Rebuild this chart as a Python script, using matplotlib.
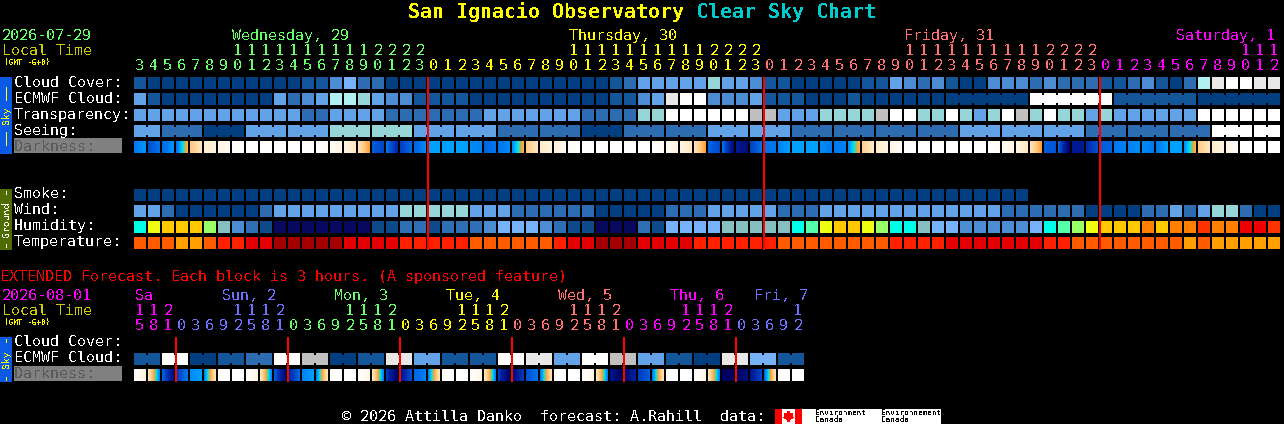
import numpy as np
import matplotlib
matplotlib.use("Agg")
import matplotlib.pyplot as plt
from matplotlib.colors import LinearSegmentedColormap
from matplotlib.patches import Polygon

plt.rcParams['font.family'] = ['DejaVu Sans Mono']
plt.rcParams['text.antialiased'] = False
plt.rcParams['text.hinting'] = 'native'

# hours shown on top of each column, split by day
hours_wed = list(range(3, 24))
hours_thu = list(range(0, 24))
hours_fri = list(range(0, 24))
hours_sat = list(range(0, 13))
ext_hours_sat = [15, 18, 21]
ext_hours_sun = [0, 3, 6, 9, 12, 15, 18, 21]
ext_hours_mon = [0, 3, 6, 9, 12, 15, 18, 21]
ext_hours_tue = [0, 3, 6, 9, 12, 15, 18, 21]
ext_hours_wed = [0, 3, 6, 9, 12, 15, 18, 21]
ext_hours_thu = [0, 3, 6, 9, 12, 15, 18, 21]
ext_hours_fri = [0, 3, 6, 9, 12]

# rows, one letter per hour (see the palettes below)
cloud_cover = ("baaaaaaaaaaabbdfccaaa"
               "aaaaaaaaaaaaabceeeeegeedbbaaaaa"
               "bbedcdbaadddcdcccbbcdbachjkkjj")
ecmwf_cloud = ("ebaaaaaaaaecdehhgeddb"
               "bbbaaaaaaaaaabbdejkkdddebbbaaab"
               "aaaaaaaaaaaakkkkkkbbbbbbaaaaaa")
transparency = ("eeeeeeeeeeeecceeeeccc"
                "cccceeeeeeeccccggkkkkkkiieeeggg"
                "gikkggkgegkigkggegeeeeeekkkkkk")
smoke = "aaaaaaaaaaaaaaaaaaaaaaaaaaaaaaaaaaaaaaaaaaaaaaaaaaaaaaaaaaaaaaaa"
wind = ("eecaaaaaaceeeeeeeeegg"
        "gggeeeccccccaaaaaccceeeeeccceee"
        "eeeeeeeeeeccccccaaaacceceggcaa")
humidity = ("ywxxxvtdcbnnnnnnnbbcc"
            "bcccdfffdcbbnnncbfffftttttyuwxx"
            "wvyytffdddddfyuvwxxxzxzzrzzRRr")
temperature = ("oooAAossrrRRRRRrrrrss"
               "sssoooooosrrRRRrrrrssssssoooooo"
               "oossssrrrrrrrssooooooooAoAAAAA")

# seeing comes in 3 hour blocks, the first and last are cut off
seeing_blocks = ["e", "c", "a", "e", "e", "g", "g", "e", "e", "c", "c", "a", "c", "c",
                 "e", "e", "c", "c", "c", "c", "e", "e", "e", "c", "c", "c", "k", "k"]
seeing_lengths = [2] + [3] * 26 + [2]

ext_ecmwf_blocks = ["b", "k", "a", "b", "c", "k", "i", "a", "b", "j", "e", "b",
                    "b", "k", "j", "e", "k", "i", "e", "b", "a", "j", "f", "b"]

# darkness at the left and right edge of each block
dark_left = [4.0, 4.6, 4.2, 4.1, 2.0, 1.0, 0.6, 0.1, 0, 0, 0, 0, 0, 0, 0.2, 0.7, 1.3,
             4.4, 4.0, 4.9, 4.3, 3.6, 3.6, 3.6, 3.8, 4.3, 4.1, 3.8, 1.9, 1.1, 0.7, 0.1,
             0, 0, 0, 0, 0, 0, 0.2, 0.7, 1.3, 4.3, 4.1, 5.8, 4.9, 4.1, 3.9, 3.6, 3.6,
             3.8, 4.0, 3.8, 1.8, 1.1, 0.6, 0, 0, 0, 0, 0, 0, 0, 0.2, 0.7, 1.3,
             4.4, 4.3, 5.9, 5.4, 4.4, 4.0, 3.9, 3.8, 4.0, 3.6, 3.8, 1.9, 1.1, 0.6, 0, 0, 0]
dark_right = [3.7, 4.1, 3.7, 2.4, 1.2, 0.7, 0.3, 0, 0, 0, 0, 0, 0, 0.2, 0.6, 1.2, 2.6,
              4.8, 5.5, 4.2, 3.8, 3.6, 3.6, 3.6, 3.9, 4.0, 3.8, 2.4, 1.2, 0.7, 0.3, 0,
              0, 0, 0, 0, 0, 0.2, 0.6, 1.2, 2.6, 4.7, 6.4, 6.5, 4.1, 4.0, 3.6, 3.6, 3.6,
              4.0, 3.9, 2.4, 1.1, 0.7, 0.2, 0, 0, 0, 0, 0, 0, 0.2, 0.6, 1.2, 2.6,
              4.5, 6.9, 5.9, 4.6, 4.3, 3.9, 3.8, 4.0, 3.6, 3.6, 2.4, 1.2, 0.7, 0.2, 0, 0, 0]
ext_dark_left = [0, 1.2, 4.3, 5.0, 3.8, 3.9, 0, 0,
                 0, 1.2, 4.4, 5.5, 3.9, 3.9, 0, 0,
                 0, 1.2, 5.0, 6.0, 4.3, 3.9, 0, 0,
                 0, 1.2, 5.0, 6.5, 4.6, 4.0, 0, 0,
                 0, 1.2, 6.0, 6.8, 5.0, 4.0, 0, 0,
                 0, 1.2, 7.0, 7.0, 6.0, 4.2, 0, 0]
ext_dark_right = [0.8, 3.9, 6.3, 4.0, 3.6, 1.3, 0, 0,
                  0.6, 3.9, 6.6, 4.2, 3.6, 1.3, 0, 0,
                  0.6, 3.9, 7.0, 4.6, 3.9, 1.3, 0, 0,
                  0.6, 3.9, 7.0, 5.0, 4.1, 1.3, 0, 0,
                  0.6, 3.9, 7.0, 5.5, 4.4, 1.3, 0, 0,
                  0.6, 3.9, 7.0, 6.3, 4.8, 1.3, 0, 0]

sky_colors = {"a": "#023f80", "b": "#13569a", "c": "#2d6cb0", "d": "#4b8cd2",
              "e": "#62a2e6", "f": "#75b2f8", "g": "#96d6d6", "h": "#b0f0f0",
              "i": "#c0c0c0", "j": "#e8e8e8", "k": "#ffffff"}
hum_colors = {"n": "#08085f", "b": "#0d4a8a", "c": "#2f70b5", "d": "#4b8cd2",
              "f": "#75b2f8", "t": "#85bfbf", "y": "#00ffe8", "u": "#55ffaa",
              "v": "#99ff66", "w": "#eeff11", "x": "#ffc800", "z": "#ff8000",
              "r": "#ff3300", "R": "#ee0000"}
temp_colors = {"R": "#a50000", "r": "#e20000", "s": "#ff2000", "o": "#ff5c00",
               "A": "#ffa000"}
dark_cmap = LinearSegmentedColormap.from_list("dark", [
    (0 / 7, "#ffffff"), (1 / 7, "#ffeed0"), (2 / 7, "#ffc880"), (2.6 / 7, "#ffa030"),
    (3.1 / 7, "#00e8e0"), (3.6 / 7, "#00a0ff"), (4.0 / 7, "#0078f0"), (4.6 / 7, "#0050d0"),
    (5.6 / 7, "#0020a0"), (7 / 7, "#000060")])

GREEN = "#66ff66"
YELLOW = "#ffff00"
SALMON = "#ff7070"
MAGENTA = "#ff00ff"
PERI = "#7070ff"
OLIVE = "#cccc00"

X0 = 134
PITCH = 14
CELL = 12

fig = plt.figure(figsize=(12.84, 4.24), dpi=100, facecolor="black")
ax = fig.add_axes([0, 0, 1, 1])
ax.set_facecolor("black")
ax.axis("off")


def cells(letters, top, palette):
    xs = X0 + PITCH * np.arange(len(letters))
    ax.bar(xs, CELL, bottom=top, width=CELL, align="edge",
           color=[palette[c] for c in letters], linewidth=0, antialiased=False)


def necks(letters, start, lengths, top):
    # little bridge between the blocks that belong together
    i = start
    for n in lengths:
        for j in range(i, i + n - 1):
            ax.bar(X0 + PITCH * j + CELL, CELL - 4, bottom=top + 2, width=PITCH - CELL,
                   align="edge", color=sky_colors[letters[j]], linewidth=0, antialiased=False)
        i += n


def darkness(left, right, top):
    for i in range(len(left)):
        x = X0 + PITCH * i
        grad = np.linspace(left[i], right[i], CELL).reshape(1, -1)
        ax.imshow(grad, cmap=dark_cmap, vmin=0, vmax=7, aspect="auto",
                  interpolation="nearest", extent=(x, x + CELL, top + CELL, top))


def hour_labels(days, y_tens, y_ones):
    i = 0
    for hrs, col in days:
        for h in hrs:
            x = X0 + PITCH * i + CELL / 2
            if h >= 10:
                ax.text(x, y_tens, str(h // 10), color=col, fontsize=10.8, ha="center")
            ax.text(x, y_ones, str(h % 10), color=col, fontsize=10.8, ha="center")
            i += 1


def side_bar(top, bottom, color, word, word_col, word_y, dash_spans):
    ax.bar(0, bottom - top, bottom=top, width=12, align="edge", color=color,
           linewidth=0, antialiased=False)
    ax.text(6, word_y, word, color=word_col, fontsize=7, rotation=90,
            ha="center", va="center")
    for y0, y1 in dash_spans:
        ax.plot([5.5, 5.5], [y0, y1], color=word_col, lw=0.72, linestyle=(0, (3.5, 1)),
                antialiased=False)


# main blocks
cells(cloud_cover, 77, sky_colors)
cells(ecmwf_cloud, 93, sky_colors)
necks(ecmwf_cloud, 58, [6, 6, 6, 6], 93)
cells(transparency, 109, sky_colors)
seeing = "".join(b * n for b, n in zip(seeing_blocks, seeing_lengths))
cells(seeing, 125, sky_colors)
necks(seeing, 0, seeing_lengths, 125)
darkness(dark_left, dark_right, 141)
cells(smoke, 189, sky_colors)
cells(wind, 205, sky_colors)
cells(humidity, 221, hum_colors)
cells(temperature, 237, temp_colors)

# extended blocks
ext_ecmwf = "".join(b * 2 for b in ext_ecmwf_blocks)
cells(ext_ecmwf, 353, sky_colors)
necks(ext_ecmwf, 0, [2] * len(ext_ecmwf_blocks), 353)
darkness(ext_dark_left, ext_dark_right, 369)

# midnight lines
for d in [21, 45, 69]:
    ax.bar(X0 + PITCH * d - 1, 173, bottom=77, width=2, align="edge", color="#ff0000",
           linewidth=0, antialiased=False, zorder=5)
for d in [3, 11, 19, 27, 35, 43]:
    ax.bar(X0 + PITCH * d - 1, 45, bottom=337, width=2, align="edge", color="#ff0000",
           linewidth=0, antialiased=False, zorder=5)

# side bars
side_bar(77, 154, "#0a5ae6", "Sky", YELLOW, 115.5, [(87, 100), (132, 145)])
side_bar(189, 250, "#4e6c00", "Ground", "#ffffff", 219, [(191, 195), (244, 248)])
side_bar(337, 382, "#0a5ae6", "Sky", YELLOW, 359.5, [(339, 343), (377, 381)])

# row labels
for name, y in [("Cloud Cover:", 87), ("ECMWF Cloud:", 103), ("Transparency:", 119),
                ("Seeing:", 135), ("Smoke:", 198), ("Wind:", 214), ("Humidity:", 230),
                ("Temperature:", 246), ("Cloud Cover:", 346), ("ECMWF Cloud:", 362)]:
    ax.text(14, y, name, color="white", fontsize=10.8)
ax.bar(14, 15, bottom=138, width=108, align="edge", color="#808080", linewidth=0, antialiased=False)
ax.bar(14, 15, bottom=366, width=108, align="edge", color="#808080", linewidth=0, antialiased=False)
ax.text(14, 151, "Darkness:", color="#5a5a5a", fontsize=10.8, zorder=4)
ax.text(14, 378, "Darkness:", color="#5a5a5a", fontsize=10.8, zorder=4)

# title
ax.text(408, 18, "San Ignacio Observatory", color=YELLOW, fontsize=14.4, fontweight="bold")
ax.text(696, 18, "Clear Sky Chart", color="#00cccc", fontsize=14.4, fontweight="bold")

# header of the hourly part
ax.text(2, 40, "2026-07-29", color=GREEN, fontsize=10.8)
ax.text(2, 55, "Local Time", color=OLIVE, fontsize=10.8)
ax.text(4, 65, "(GMT -6+0)", color=YELLOW, fontsize=5.5)
for label, x, col in [("Wednesday, 29", 232, GREEN), ("Thursday, 30", 569, YELLOW),
                      ("Friday, 31", 904, SALMON), ("Saturday, 1", 1176, MAGENTA)]:
    ax.text(x, 40, label, color=col, fontsize=10.8)
hour_labels([(hours_wed, GREEN), (hours_thu, YELLOW), (hours_fri, SALMON), (hours_sat, MAGENTA)], 55, 70)

# header of the extended part
ax.text(0, 281, "EXTENDED Forecast. Each block is 3 hours. (A sponsored feature)",
        color="#ff0000", fontsize=10.8)
ax.text(2, 300, "2026-08-01", color=MAGENTA, fontsize=10.8)
ax.text(2, 315, "Local Time", color=OLIVE, fontsize=10.8)
ax.text(4, 325, "(GMT -6+0)", color=YELLOW, fontsize=5.5)
for label, x, col in [("Sa", 135, MAGENTA), ("Sun, 2", 222, PERI), ("Mon, 3", 334, GREEN),
                      ("Tue, 4", 446, YELLOW), ("Wed, 5", 558, SALMON),
                      ("Thu, 6", 670, MAGENTA), ("Fri, 7", 754, PERI)]:
    ax.text(x, 300, label, color=col, fontsize=10.8)
hour_labels([(ext_hours_sat, MAGENTA), (ext_hours_sun, PERI), (ext_hours_mon, GREEN),
             (ext_hours_tue, YELLOW), (ext_hours_wed, SALMON), (ext_hours_thu, MAGENTA),
             (ext_hours_fri, PERI)], 315, 330)

# footer with the flag
ax.text(342, 421, "\u00a9 2026 Attilla Danko  forecast: A.Rahill  data:", color="white", fontsize=10.8)
ax.bar(775, 15, bottom=409, width=166, align="edge", color="white", linewidth=0, antialiased=False)
ax.bar(775, 15, bottom=409, width=7, align="edge", color="#ff0000", linewidth=0, antialiased=False)
ax.bar(795, 15, bottom=409, width=7, align="edge", color="#ff0000", linewidth=0, antialiased=False)
leaf = [(788.5, 411), (790, 413.5), (793, 413), (792, 416.5), (793.5, 417.5), (789.2, 420),
        (789.2, 422), (787.8, 422), (787.8, 420), (783.5, 417.5), (785, 416.5), (784, 413), (787, 413.5)]
ax.add_patch(Polygon(leaf, closed=True, facecolor="#ff0000", edgecolor="none", antialiased=False))
ax.text(815, 415, "Environment", color="black", fontsize=5.5, zorder=4)
ax.text(815, 422, "Canada", color="black", fontsize=5.5, zorder=4)
ax.text(881, 415, "Environnement", color="black", fontsize=5.5, zorder=4)
ax.text(881, 422, "Canada", color="black", fontsize=5.5, zorder=4)

ax.set_xlim(0, 1284)
ax.set_ylim(424, 0)
fig.savefig("out.png", dpi=100, facecolor="black")
